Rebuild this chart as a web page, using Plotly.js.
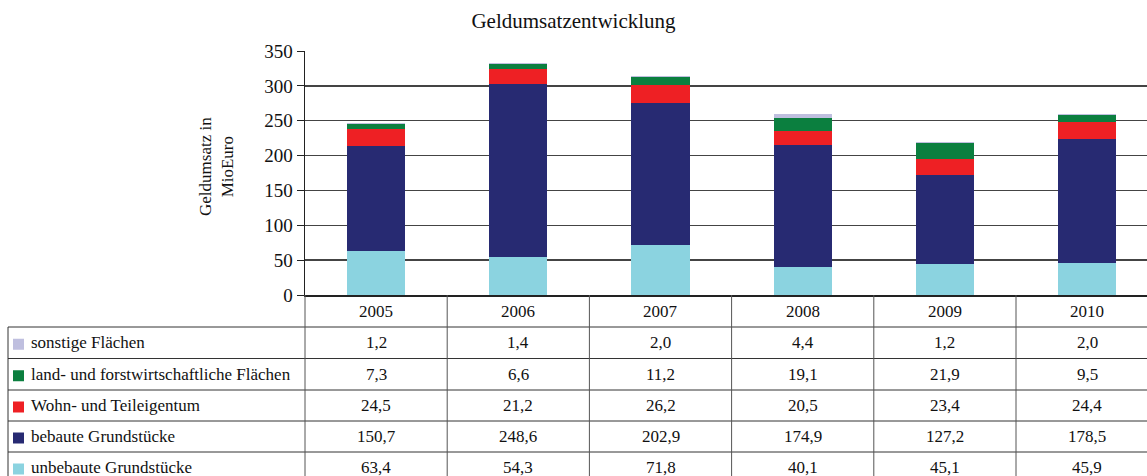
<!DOCTYPE html>
<html>
<head>
<meta charset="utf-8">
<script src="https://cdn.plot.ly/plotly-3.0.1.min.js"></script>
<style>html,body{margin:0;padding:0;background:#fff;}#chart{width:1147px;height:476px;}</style>
</head>
<body>
<div id="chart"></div>
<script>
const years = ['2005', '2006', '2007', '2008', '2009', '2010'];
const seriesNames = ['sonstige Flächen', 'land- und forstwirtschaftliche Flächen', 'Wohn- und Teileigentum', 'bebaute Grundstücke', 'unbebaute Grundstücke'];
const sonstige = [1.2, 1.4, 2.0, 4.4, 1.2, 2.0];
const landForst = [7.3, 6.6, 11.2, 19.1, 21.9, 9.5];
const wohnTeil = [24.5, 21.2, 26.2, 20.5, 23.4, 24.4];
const bebaute = [150.7, 248.6, 202.9, 174.9, 127.2, 178.5];
const unbebaute = [63.4, 54.3, 71.8, 40.1, 45.1, 45.9];
const seriesValues = [sonstige, landForst, wohnTeil, bebaute, unbebaute];
const colors = ['#bfbfdf', '#0b7f3f', '#ee2024', '#272a72', '#8bd3e0'];
const yTicks = [0, 50, 100, 150, 200, 250, 300, 350];

const W = 1147, H = 476;
const L = 305, T = 51, B = 181;
const plotW = W - L, plotH = H - T - B;
const colW = 142.2;
const font = 'Liberation Serif';
const tsize = 17;

const traces = [];
for (let i = seriesNames.length - 1; i >= 0; i--) {
  traces.push({
    type: 'bar', x: years, y: seriesValues[i], name: seriesNames[i],
    marker: {color: colors[i], line: {width: 0}}, hoverinfo: 'skip'
  });
}

const px2x = p => (p - L) / plotW;
const py2y = p => (H - B - p) / plotH;
const shapes = [], annotations = [];
const lineStyle = {color: '#333', width: 1};

const rowLines = [327, 358.5, 390, 421, 452, 483];
const yearRowCenter = 311;
for (let k = 0; k < rowLines.length; k++) {
  shapes.push({type: 'line', xref: 'paper', yref: 'paper', x0: px2x(8), x1: px2x(W + 20), y0: py2y(rowLines[k]), y1: py2y(rowLines[k]), line: lineStyle});
}
shapes.push({type: 'line', xref: 'paper', yref: 'paper', x0: px2x(8), x1: px2x(8), y0: py2y(327), y1: py2y(H + 10), line: lineStyle});
for (let c = 0; c <= years.length; c++) {
  const xp = L + c * colW;
  shapes.push({type: 'line', xref: 'paper', yref: 'paper', x0: px2x(xp), x1: px2x(xp), y0: py2y(H - B), y1: py2y(H + 10), line: {color: '#555', width: 1}});
}
years.forEach((yr, c) => {
  annotations.push({xref: 'paper', yref: 'paper', x: px2x(L + (c + 0.5) * colW), y: py2y(yearRowCenter), text: yr, showarrow: false, font: {family: font, size: tsize, color: '#111'}, xanchor: 'center', yanchor: 'middle'});
});
seriesNames.forEach((nm, r) => {
  const top = rowLines[r], bot = rowLines[r + 1];
  const cy = (top + bot) / 2;
  shapes.push({type: 'rect', xref: 'paper', yref: 'paper', x0: px2x(13), x1: px2x(24), y0: py2y(cy - 4), y1: py2y(cy + 7), fillcolor: colors[r], line: {width: 0}});
  annotations.push({xref: 'paper', yref: 'paper', x: px2x(29), y: py2y(cy), text: nm, showarrow: false, font: {family: font, size: tsize, color: '#111'}, xanchor: 'left', yanchor: 'middle'});
  seriesValues[r].forEach((v, c) => {
    annotations.push({xref: 'paper', yref: 'paper', x: px2x(L + (c + 0.5) * colW), y: py2y(cy), text: v.toFixed(1).replace('.', ','), showarrow: false, font: {family: font, size: tsize, color: '#111'}, xanchor: 'center', yanchor: 'middle'});
  });
});
annotations.push({xref: 'paper', yref: 'paper', x: px2x(216), y: py2y(167), text: 'Geldumsatz in<br>MioEuro', textangle: -90, showarrow: false, font: {family: font, size: tsize, color: '#111'}, xanchor: 'center', yanchor: 'middle'});

const layout = {
  width: W, height: H,
  margin: {l: L, r: 0, t: T, b: B, pad: 0},
  paper_bgcolor: '#fff', plot_bgcolor: '#fff',
  barmode: 'stack', bargap: 0.59, showlegend: false,
  title: {text: 'Geldumsatzentwicklung', x: 0.5, xref: 'container', xanchor: 'center', y: 1 - 21 / H, yref: 'container', yanchor: 'middle', font: {family: font, size: 21, color: '#111'}},
  font: {family: font, color: '#111'},
  xaxis: {type: 'category', range: [-0.5, -0.5 + plotW / colW], showticklabels: false, ticks: '', showgrid: false, showline: true, linecolor: '#222', linewidth: 1.5, fixedrange: true, zeroline: false},
  yaxis: {range: [0, 350], tickvals: yTicks, ticktext: yTicks.map(String), ticks: 'outside', ticklen: 7, tickcolor: '#222', tickfont: {family: font, size: 19, color: '#111'}, showgrid: true, gridcolor: '#444', gridwidth: 1.5, showline: true, linecolor: '#222', linewidth: 1.5, zeroline: false, fixedrange: true},
  shapes: shapes, annotations: annotations
};
Plotly.newPlot('chart', traces, layout, {staticPlot: true, displayModeBar: false});
</script>
</body>
</html>
